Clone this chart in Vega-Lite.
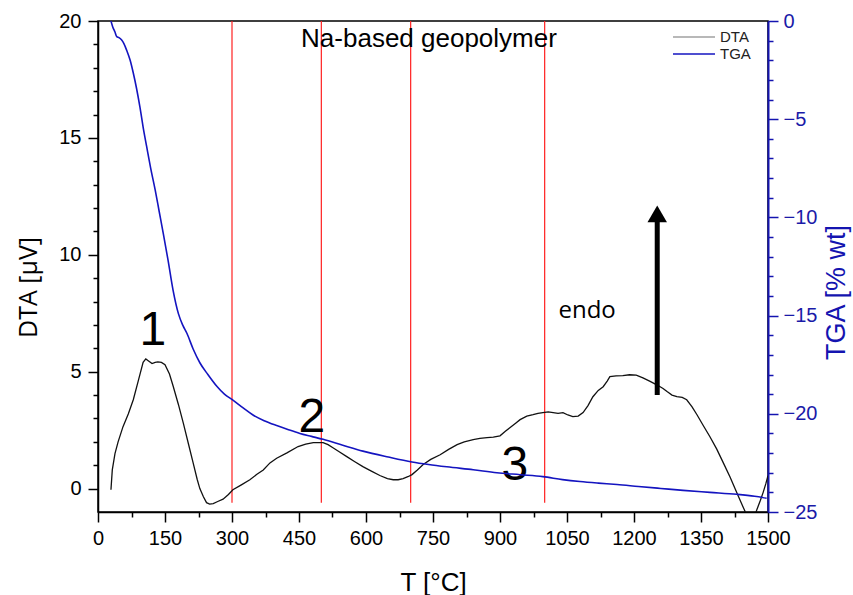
{
  "$schema": "https://vega.github.io/schema/vega-lite/v6.json",
  "width": 670,
  "height": 491,
  "autosize": {"type": "none"},
  "padding": {"left": 98, "top": 21, "right": 85, "bottom": 83},
  "background": "white",
  "config": {
    "font": "Liberation Sans",
    "view": {"stroke": "black", "strokeWidth": 1.5},
    "axis": {"grid": false, "labelFont": "Liberation Sans", "titleFont": "Liberation Sans", "titleFontWeight": "normal"}
  },
  "encoding": {
    "x": {
      "field": "T", "type": "quantitative",
      "scale": {"domain": [0, 1500], "nice": false, "zero": false},
      "axis": {
        "title": "T [°C]",
        "values": [0,75,150,225,300,375,450,525,600,675,750,825,900,975,1050,1125,1200,1275,1350,1425,1500],
        "labelExpr": "datum.value % 150 === 0 ? format(datum.value, 'd') : ''",
        "labelOverlap": false,
        "labelFlush": false,
        "labelFontSize": 20,
        "labelColor": "black",
        "labelPadding": 6,
        "domainColor": "black",
        "domainWidth": 1.5,
        "tickColor": "black",
        "tickWidth": 1.5,
        "tickSize": {"condition": {"test": "datum.value % 150 === 0", "value": 10}, "value": 5},
        "titleFontSize": 26,
        "titleColor": "black",
        "titleX": 335,
        "titleY": 78,
        "titleBaseline": "alphabetic",
        "titleAlign": "center"
      }
    }
  },
  "layer": [
    {
      "encoding": {
        "y": {
          "field": "v", "type": "quantitative",
          "scale": {"domain": [-1, 20], "nice": false, "zero": false},
          "axis": {
            "orient": "left",
            "title": "DTA [µV]",
            "values": [0,1,2,3,4,5,6,7,8,9,10,11,12,13,14,15,16,17,18,19,20],
            "labelExpr": "datum.value % 5 === 0 ? format(datum.value, 'd') : ''",
            "labelOverlap": false,
            "labelFlush": false,
            "labelFontSize": 20,
            "labelColor": "black",
            "labelPadding": 7,
            "domainColor": "black",
            "domainWidth": 1.5,
            "tickColor": "black",
            "tickWidth": 1.5,
            "tickSize": {"condition": {"test": "datum.value % 5 === 0", "value": 10}, "value": 5},
            "titleFont": "Open Sans",
            "titleFontSize": 25,
            "titleColor": "black",
            "titleX": -70,
            "titleY": 266,
            "titleAngle": 270,
            "titleAlign": "center",
            "titleBaseline": "middle"
          }
        }
      },
      "layer": [
        {
          "data": {"values": [
            {"T": 300, "v": 20, "v2": -0.6},
            {"T": 500, "v": 20, "v2": -0.6},
            {"T": 700, "v": 20, "v2": -0.6},
            {"T": 1000, "v": 20, "v2": -0.6}
          ]},
          "mark": {"type": "rule", "color": "#ff2020", "strokeWidth": 1.2},
          "encoding": {"y2": {"field": "v2"}}
        },
        {
          "data": {"values": [
            {"T":29,"v":-0.05},{"T":32,"v":0.8},{"T":38,"v":1.5},{"T":45,"v":2.0},{"T":56,"v":2.65},{"T":68,"v":3.2},{"T":79,"v":3.8},{"T":90,"v":4.6},{"T":101,"v":5.4},{"T":107,"v":5.55},{"T":114,"v":5.45},{"T":121,"v":5.35},{"T":128,"v":5.4},{"T":134,"v":5.42},{"T":142,"v":5.4},{"T":150,"v":5.3},{"T":160,"v":4.9},{"T":168,"v":4.4},{"T":180,"v":3.6},{"T":191,"v":2.8},{"T":202,"v":1.95},{"T":213,"v":1.1},{"T":222,"v":0.4},{"T":228,"v":0.0},{"T":236,"v":-0.35},{"T":243,"v":-0.6},{"T":250,"v":-0.66},{"T":258,"v":-0.64},{"T":268,"v":-0.55},{"T":280,"v":-0.45},{"T":292,"v":-0.25},{"T":302,"v":-0.05},{"T":320,"v":0.15},{"T":340,"v":0.38},{"T":355,"v":0.6},{"T":370,"v":0.8},{"T":385,"v":1.1},{"T":400,"v":1.3},{"T":423,"v":1.53},{"T":448,"v":1.8},{"T":465,"v":1.9},{"T":482,"v":1.97},{"T":504,"v":1.97},{"T":515,"v":1.88},{"T":526,"v":1.75},{"T":540,"v":1.58},{"T":557,"v":1.37},{"T":575,"v":1.15},{"T":593,"v":0.94},{"T":612,"v":0.75},{"T":631,"v":0.56},{"T":648,"v":0.43},{"T":661,"v":0.38},{"T":672,"v":0.38},{"T":683,"v":0.43},{"T":695,"v":0.52},{"T":703,"v":0.6},{"T":715,"v":0.8},{"T":728,"v":1.03},{"T":745,"v":1.25},{"T":766,"v":1.45},{"T":785,"v":1.68},{"T":804,"v":1.88},{"T":820,"v":2.0},{"T":840,"v":2.1},{"T":855,"v":2.15},{"T":871,"v":2.18},{"T":885,"v":2.2},{"T":900,"v":2.26},{"T":912,"v":2.45},{"T":922,"v":2.6},{"T":935,"v":2.8},{"T":945,"v":2.95},{"T":960,"v":3.1},{"T":974,"v":3.16},{"T":985,"v":3.22},{"T":996,"v":3.25},{"T":1008,"v":3.28},{"T":1019,"v":3.25},{"T":1030,"v":3.22},{"T":1041,"v":3.25},{"T":1052,"v":3.15},{"T":1063,"v":3.08},{"T":1075,"v":3.1},{"T":1086,"v":3.25},{"T":1097,"v":3.55},{"T":1108,"v":3.93},{"T":1120,"v":4.2},{"T":1131,"v":4.36},{"T":1140,"v":4.6},{"T":1146,"v":4.79},{"T":1160,"v":4.82},{"T":1175,"v":4.83},{"T":1190,"v":4.87},{"T":1205,"v":4.85},{"T":1220,"v":4.74},{"T":1235,"v":4.6},{"T":1251,"v":4.44},{"T":1265,"v":4.28},{"T":1274,"v":4.15},{"T":1285,"v":4.0},{"T":1296,"v":3.93},{"T":1308,"v":3.9},{"T":1318,"v":3.8},{"T":1330,"v":3.5},{"T":1341,"v":3.16},{"T":1355,"v":2.7},{"T":1370,"v":2.22},{"T":1385,"v":1.7},{"T":1400,"v":1.1},{"T":1415,"v":0.5},{"T":1430,"v":-0.17},{"T":1440,"v":-0.6},{"T":1448,"v":-0.95},{"T":1455,"v":-1.3},{"T":1462,"v":-1.5},{"T":1470,"v":-1.2},{"T":1475,"v":-0.9},{"T":1483,"v":-0.5},{"T":1489,"v":-0.17},{"T":1495,"v":0.2},{"T":1500,"v":0.55}
          ]},
          "mark": {"type": "line", "color": "#111111", "strokeWidth": 1.3, "clip": true, "interpolate": "linear"}
        },
        {
          "data": {"values": [{"T": 1252, "v": 4.0, "v2": 11.4}]},
          "mark": {"type": "rule", "color": "black", "strokeWidth": 5},
          "encoding": {"y2": {"field": "v2"}}
        },
        {
          "data": {"values": [{"T": 1252, "v": 11.75}]},
          "mark": {"type": "point", "shape": "triangle-up", "filled": true, "color": "black", "opacity": 1, "size": 380}
        },
        {
          "data": {"values": [
            {"T": 123, "v": 6.15, "label": "1"},
            {"T": 479, "v": 2.44, "label": "2"},
            {"T": 933, "v": 0.38, "label": "3"}
          ]},
          "mark": {"type": "text", "fontSize": 48, "font": "Liberation Sans", "color": "black", "align": "center", "baseline": "alphabetic"},
          "encoding": {"text": {"field": "label"}}
        },
        {
          "data": {"values": [{"T": 1095, "v": 7.3, "label": "endo"}]},
          "mark": {"type": "text", "fontSize": 24, "font": "Open Sans", "color": "black", "align": "center", "baseline": "alphabetic"},
          "encoding": {"text": {"field": "label"}}
        },
        {
          "data": {"values": [{"T": 741, "v": 18.9, "label": "Na-based geopolymer"}]},
          "mark": {"type": "text", "fontSize": 26, "font": "Liberation Sans", "color": "black", "align": "center", "baseline": "alphabetic"},
          "encoding": {"text": {"field": "label"}}
        },
        {
          "data": {"values": [{"s": "DTA"}, {"s": "TGA"}]},
          "mark": {"type": "line", "opacity": 0},
          "encoding": {
            "stroke": {
              "field": "s", "type": "nominal",
              "scale": {"domain": ["DTA", "TGA"], "range": ["#a0a0a0", "#1414c0"]},
              "legend": {
                "orient": "none", "legendX": 602, "legendY": 8, "title": null, "padding": 0,
                "symbolType": "M-5,0H1", "symbolSize": 196, "symbolStrokeWidth": 1.5, "symbolOpacity": 1, "symbolFillColor": "transparent",
                "labelFontSize": 15, "labelFont": "Liberation Sans", "labelColor": "#222222", "labelOffset": 4, "rowPadding": 1
              }
            }
          }
        }
      ]
    },
    {
      "data": {"values": [
        {"T":29,"w":0},{"T":33,"w":-0.3},{"T":38,"w":-0.56},{"T":42,"w":-0.8},{"T":47,"w":-0.85},{"T":53,"w":-0.97},{"T":58,"w":-1.15},{"T":64,"w":-1.48},{"T":72,"w":-2.0},{"T":79,"w":-2.65},{"T":86,"w":-3.4},{"T":94,"w":-4.4},{"T":101,"w":-5.4},{"T":109,"w":-6.4},{"T":118,"w":-7.5},{"T":128,"w":-8.6},{"T":137,"w":-9.7},{"T":146,"w":-10.8},{"T":157,"w":-12.2},{"T":168,"w":-13.7},{"T":180,"w":-14.9},{"T":190,"w":-15.5},{"T":199,"w":-15.9},{"T":213,"w":-16.7},{"T":228,"w":-17.4},{"T":246,"w":-18.0},{"T":266,"w":-18.6},{"T":283,"w":-19.0},{"T":302,"w":-19.3},{"T":325,"w":-19.7},{"T":347,"w":-20.06},{"T":372,"w":-20.35},{"T":400,"w":-20.6},{"T":425,"w":-20.8},{"T":452,"w":-21.0},{"T":478,"w":-21.15},{"T":504,"w":-21.3},{"T":548,"w":-21.6},{"T":593,"w":-21.9},{"T":650,"w":-22.2},{"T":703,"w":-22.45},{"T":740,"w":-22.58},{"T":781,"w":-22.7},{"T":840,"w":-22.85},{"T":893,"w":-23.0},{"T":945,"w":-23.1},{"T":996,"w":-23.2},{"T":1040,"w":-23.35},{"T":1079,"w":-23.45},{"T":1120,"w":-23.53},{"T":1162,"w":-23.6},{"T":1210,"w":-23.7},{"T":1260,"w":-23.8},{"T":1310,"w":-23.9},{"T":1370,"w":-24.0},{"T":1430,"w":-24.1},{"T":1470,"w":-24.2},{"T":1497,"w":-24.3}
      ]},
      "mark": {"type": "line", "color": "#1414c0", "strokeWidth": 1.6, "clip": true, "interpolate": "monotone"},
      "encoding": {
        "y": {
          "field": "w", "type": "quantitative",
          "scale": {"domain": [-25, 0], "nice": false, "zero": false},
          "axis": {
            "orient": "right",
            "title": "TGA [% wt]",
            "values": [-25,-24,-23,-22,-21,-20,-19,-18,-17,-16,-15,-14,-13,-12,-11,-10,-9,-8,-7,-6,-5,-4,-3,-2,-1,0],
            "labelExpr": "datum.value % 5 === 0 ? format(datum.value, 'd') : ''",
            "labelOverlap": false,
            "labelFlush": false,
            "labelFontSize": 20,
            "labelColor": "#1a1aa8",
            "labelPadding": 5,
            "domainColor": "#1414b0",
            "domainWidth": 2,
            "tickColor": "#1414b0",
            "tickWidth": 1.5,
            "tickSize": {"condition": {"test": "datum.value % 5 === 0", "value": 10}, "value": 5},
            "titleFontSize": 27,
            "titleColor": "#1414b0",
            "titleX": 68,
            "titleY": 271,
            "titleAngle": 270,
            "titleAlign": "center",
            "titleBaseline": "middle"
          }
        }
      }
    }
  ],
  "resolve": {"scale": {"y": "independent"}}
}
